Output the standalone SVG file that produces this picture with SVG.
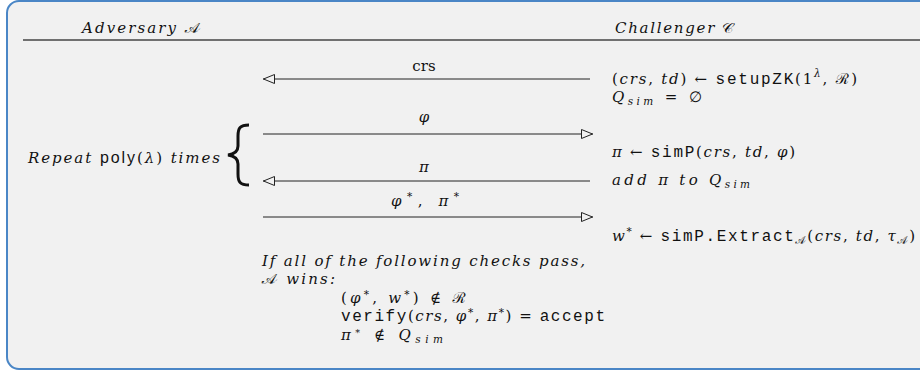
<svg xmlns="http://www.w3.org/2000/svg" width="920" height="371" viewBox="0 0 920 371">
<style>
text{font-family:"DejaVu Serif","Liberation Serif",serif;font-size:15px;fill:#111}
.it{font-style:italic}
.rm{font-style:normal}
.tt{font-family:"Liberation Mono","DejaVu Sans Mono",monospace;font-style:normal;font-size:16px}
.sf{font-family:"Liberation Sans","DejaVu Sans",sans-serif;font-style:normal;font-size:16px}
.scr{font-family:"DejaVu Serif","Noto Sans Math",serif;font-style:normal;font-size:15px}
.sm{font-size:10.5px}
.scr.sm{font-size:10px}
.conn{stroke:#222;stroke-width:1;fill:none}
</style>
<defs>
<marker id="ah" viewBox="0 0 12 10" refX="12" refY="5" markerWidth="12" markerHeight="10" markerUnits="userSpaceOnUse" orient="auto">
<path d="M0.5,0.5 L11.5,5 L0.5,9.5 Z" fill="#f1f1f1" stroke="#222" stroke-width="1"/>
</marker>
</defs>
<rect x="7" y="1" width="930" height="368" rx="12" ry="12" fill="#f1f1f1" stroke="#4a86c6" stroke-width="2"/>
<line x1="23" y1="40" x2="920" y2="40" stroke="#707070" stroke-width="2"/>
<g id="adversary">
<text x="82" y="33" class="it" textLength="118" lengthAdjust="spacing">Adversary <tspan class="scr">𝒜</tspan></text>
</g>
<g id="challenger">
<text x="615" y="33" class="it" textLength="120" lengthAdjust="spacing">Challenger <tspan class="scr">𝒞</tspan></text>
</g>
<g id="connectors">
<path class="conn" d="M590,79 H263" marker-end="url(#ah)"/>
<path class="conn" d="M263,134 H593" marker-end="url(#ah)"/>
<path class="conn" d="M590,181 H263" marker-end="url(#ah)"/>
<path class="conn" d="M263,217 H593" marker-end="url(#ah)"/>
</g>
<g id="labels">
<text x="424" y="71" text-anchor="middle" class="rm">crs</text>
<text x="424" y="122" text-anchor="middle" class="it">φ</text>
<text x="424" y="172" text-anchor="middle" class="it">π</text>
<text x="391" y="206" class="it" textLength="68" lengthAdjust="spacing">φ<tspan dy="-6" class="sm rm">*</tspan><tspan dy="6" class="rm">, </tspan>π<tspan dy="-6" class="sm rm">*</tspan></text>
</g>
<g id="challenger-steps">
<text x="612" y="84" textLength="245" lengthAdjust="spacing"><tspan class="rm">(</tspan><tspan class="it">crs</tspan><tspan class="rm">, </tspan><tspan class="it">td</tspan><tspan class="rm">) ← </tspan><tspan class="tt">setupZK</tspan><tspan class="rm">(1</tspan><tspan class="it sm" dy="-7">λ</tspan><tspan class="rm" dy="7">, </tspan><tspan class="scr">ℛ</tspan><tspan class="rm">)</tspan></text>
<text x="612" y="102" textLength="90" lengthAdjust="spacing"><tspan class="it">Q</tspan><tspan class="it sm" dy="3">sim</tspan><tspan class="rm" dy="-3"> = ∅</tspan></text>
<text x="612" y="157" textLength="183" lengthAdjust="spacing"><tspan class="it">π</tspan><tspan class="rm"> ← </tspan><tspan class="tt">simP</tspan><tspan class="rm">(</tspan><tspan class="it">crs</tspan><tspan class="rm">, </tspan><tspan class="it">td</tspan><tspan class="rm">, </tspan><tspan class="it">φ</tspan><tspan class="rm">)</tspan></text>
<text x="612" y="185" class="it" textLength="138" lengthAdjust="spacing">add π to Q<tspan class="sm" dy="3">sim</tspan></text>
<text x="612" y="241" textLength="303" lengthAdjust="spacing"><tspan class="it">w</tspan><tspan class="rm sm" dy="-6">*</tspan><tspan class="rm" dy="6"> ← </tspan><tspan class="tt">simP.Extract</tspan><tspan class="scr sm" dy="3">𝒜</tspan><tspan class="rm" dy="-3">(</tspan><tspan class="it">crs</tspan><tspan class="rm">, </tspan><tspan class="it">td</tspan><tspan class="rm">, </tspan><tspan class="it">τ</tspan><tspan class="scr sm" dy="3">𝒜</tspan><tspan class="rm" dy="-3">)</tspan></text>
</g>
<g id="repeat">
<text x="28" y="163" textLength="192" lengthAdjust="spacing"><tspan class="it">Repeat </tspan><tspan class="sf">poly</tspan><tspan class="rm">(</tspan><tspan class="it">λ</tspan><tspan class="rm">) </tspan><tspan class="it">times</tspan></text>
<path d="M249,125 C240,125 238,128 238,136 L238,146 C238,151 235,154 228,155 C235,156 238,159 238,164 L238,174 C238,182 240,185 249,185" fill="none" stroke="#111" stroke-width="3"/>
</g>
<g id="win-condition">
<text x="262" y="266" class="it" textLength="323" lengthAdjust="spacing">If all of the following checks pass,</text>
<text x="262" y="284" textLength="73" lengthAdjust="spacing"><tspan class="scr">𝒜</tspan><tspan class="it"> wins:</tspan></text>
<text x="341" y="303" textLength="125" lengthAdjust="spacing"><tspan class="rm">(</tspan><tspan class="it">φ</tspan><tspan class="rm sm" dy="-5">*</tspan><tspan class="rm" dy="5">, </tspan><tspan class="it">w</tspan><tspan class="rm sm" dy="-5">*</tspan><tspan class="rm" dy="5">) ∉ </tspan><tspan class="scr">ℛ</tspan></text>
<text x="341" y="321" textLength="264" lengthAdjust="spacing"><tspan class="tt">verify</tspan><tspan class="rm">(</tspan><tspan class="it">crs</tspan><tspan class="rm">, </tspan><tspan class="it">φ</tspan><tspan class="rm sm" dy="-5">*</tspan><tspan class="rm" dy="5">, </tspan><tspan class="it">π</tspan><tspan class="rm sm" dy="-5">*</tspan><tspan class="rm" dy="5">) = </tspan><tspan class="tt">accept</tspan></text>
<text x="341" y="340" textLength="102" lengthAdjust="spacing"><tspan class="it">π</tspan><tspan class="rm" dy="-4" font-size="9.5">*</tspan><tspan class="rm" dy="4"> ∉ </tspan><tspan class="it">Q</tspan><tspan class="it sm" dy="3">sim</tspan></text>
</g>
</svg>
